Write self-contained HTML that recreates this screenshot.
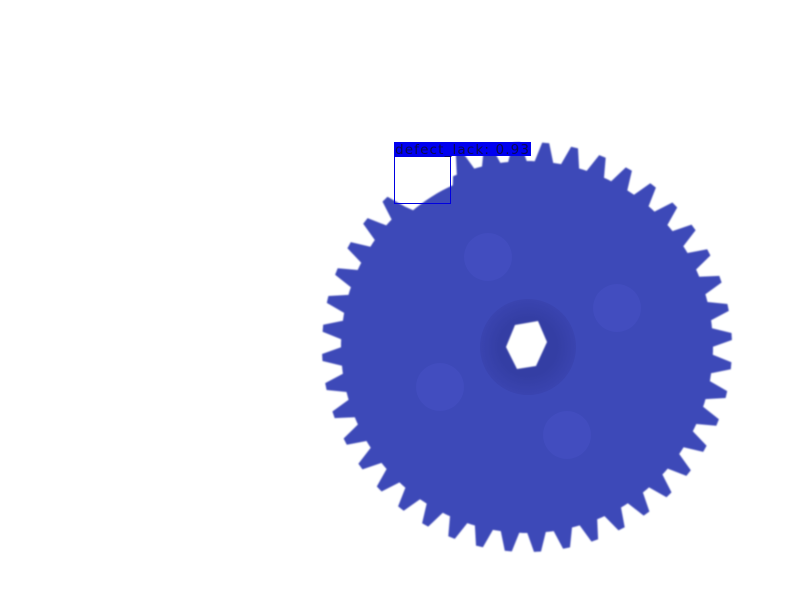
<!DOCTYPE html>
<html><head><meta charset="utf-8"><style>html,body{margin:0;padding:0;background:#fff;width:800px;height:600px;overflow:hidden}</style></head>
<body>
<svg width="800" height="600">
<defs><filter id="bl"><feGaussianBlur stdDeviation="0.8"/></filter>
<radialGradient id="hub"><stop offset="0.6" stop-color="#343ea4"/><stop offset="1" stop-color="#3a44b0"/></radialGradient></defs>
<path id="gear" fill="#3e48b8" filter="url(#bl)"/>
<circle cx="488" cy="257" r="24" fill="#424dbf"/>
<circle cx="617" cy="308" r="24" fill="#424dbf"/>
<circle cx="440" cy="387" r="24" fill="#424dbf"/>
<circle cx="567" cy="435" r="24" fill="#424dbf"/>
<circle cx="528" cy="347" r="48" fill="url(#hub)"/>
<polygon points="515,325 538,321 547,342 536,366 517,369 506,347" fill="#fff" filter="url(#bl)"/>
<rect x="394.5" y="156.5" width="56" height="47" fill="none" stroke="#0000e0" stroke-width="1"/>
<rect x="394" y="142" width="137" height="14" fill="#0000f0"/>
<text x="395" y="154" style="font-family:'DejaVu Sans',sans-serif;font-size:13.5px" fill="#0a0a50" textLength="134">defect_lack: 0.93</text>
</svg>
<script>
const cx=527,cy=347,N=44,Rt=205,Rr=186;
let d='';
for(let i=0;i<N;i++){
  const step=2*Math.PI/N;
  const a0=i*step - Math.PI/2 + 0.02;
  let deg=a0*180/Math.PI; if(deg>180)deg-=360;
  const missing = deg>-136 && deg<-116;
  const rr = missing?178:Rr, rt = missing?178:Rt;
  const pts=[[a0,rr],[a0+step*0.15,rr],[a0+step*0.38,rt],[a0+step*0.62,rt],[a0+step*0.85,rr]];
  for(const [a,r] of pts){d+=(d?'L':'M')+(cx+r*Math.cos(a)).toFixed(1)+','+(cy+r*Math.sin(a)).toFixed(1);}
}
d+='Z';
document.getElementById('gear').setAttribute('d',d);
</script>
</body></html>
